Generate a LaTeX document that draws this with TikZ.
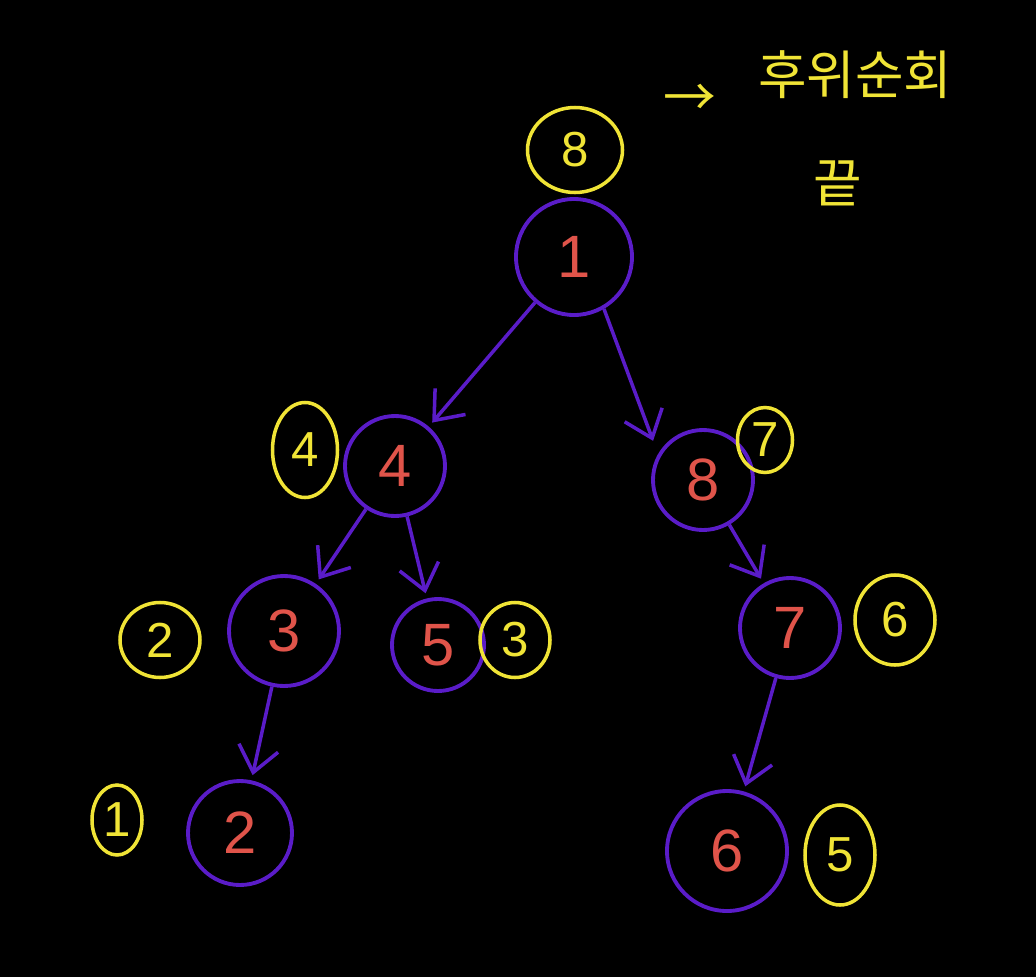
\documentclass[tikz,border=0pt]{standalone}
\usepackage{fontspec}
\setmainfont{Liberation Sans}
\newfontfamily\kofont{Noto Sans CJK KR}
\usetikzlibrary{arrows.meta,shapes.geometric}
\definecolor{board}{HTML}{000000}
\definecolor{treeviolet}{HTML}{5A1CC8}
\definecolor{digitred}{HTML}{E0544A}
\definecolor{markyellow}{HTML}{F0E436}

\begin{document}
\begin{tikzpicture}[
  key/.style={circle, draw=treeviolet, line width=2.2pt, text=digitred,
    font=\fontsize{34}{34}\selectfont, inner sep=0pt},
  ord/.style={ellipse, draw=markyellow, line width=2pt, text=markyellow,
    font=\fontsize{28}{28}\selectfont, inner sep=0pt},
  note/.style={text=markyellow, font=\kofont\fontsize{30}{30}\selectfont},
  arr/.style={-{Straight Barb[length=5mm, width=8mm]}, line width=2pt,
    draw=treeviolet, shorten >=3pt}
]
\useasboundingbox[fill=board] (0,0) rectangle (20.72,-19.54);

% tree
\node[key, minimum size=2.32cm] (n1) at (11.48,-5.14) {1};
\node[key, minimum size=2.0cm] (n4) at (7.9,-9.32) {4};
\node[key, minimum size=2.0cm] (n8) at (14.06,-9.6) {8};
\node[key, minimum size=2.2cm] (n3) at (5.68,-12.62) {3};
\node[key, minimum size=1.84cm] (n5) at (8.76,-12.9) {5};
\node[key, minimum size=2.0cm] (n7) at (15.8,-12.56) {7};
\node[key, minimum size=2.08cm] (n2) at (4.8,-16.66) {2};
\node[key, minimum size=2.4cm] (n6) at (14.54,-17.02) {6};

\draw[arr] (n1) -- (n4);
\draw[arr, shorten >=8pt] (n1.300) -- (n8.150);
\draw[arr] (n4) -- (n3);
\draw[arr] (n4) -- (n5);
\draw[arr] (n8) -- (n7);
\draw[arr] (n3) -- (n2);
\draw[arr] (n7) -- (n6);

% visit order
\node[ord, minimum width=1.9cm, minimum height=1.7cm] (o8) at (11.5,-3.0) {8};
\node[ord, minimum width=1.3cm, minimum height=1.9cm] (o4) at (6.1,-9.0) {4};
\node[ord, minimum width=1.1cm, minimum height=1.3cm] (o7) at (15.3,-8.8) {7};
\node[ord, minimum width=1.6cm, minimum height=1.5cm] (o2) at (3.2,-12.8) {2};
\node[ord, minimum width=1.4cm, minimum height=1.5cm] (o3) at (10.3,-12.8) {3};
\node[ord, minimum width=1.6cm, minimum height=1.8cm] (o6) at (17.9,-12.4) {6};
\node[ord, minimum width=1.0cm, minimum height=1.4cm] (o1) at (2.34,-16.4) {1};
\node[ord, minimum width=1.4cm, minimum height=2.0cm] (o5) at (16.8,-17.1) {5};

% note
\node[note] (arrow) at (13.8,-2.0) {→};
\node[note] (post) at (17.1,-1.5) {후위순회};
\node[note] (fin) at (16.76,-3.66) {끝};
\end{tikzpicture}
\end{document}
